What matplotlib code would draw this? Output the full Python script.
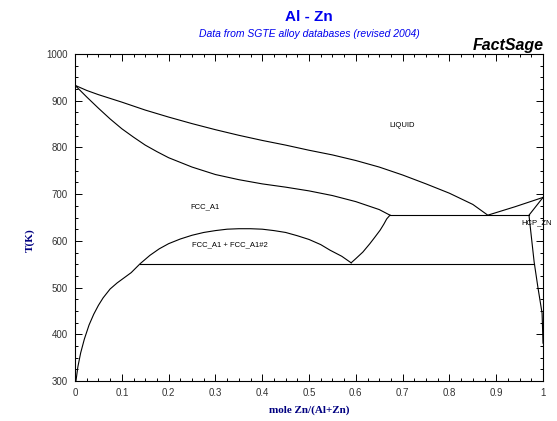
import matplotlib
matplotlib.use("Agg")
import matplotlib.pyplot as plt
from matplotlib.ticker import MultipleLocator

# liquidus (Al side down to eutectic, then Zn side)
liq_x = [0, 0.025, 0.05, 0.1, 0.15, 0.2, 0.25, 0.3, 0.35, 0.4, 0.45, 0.5,
         0.55, 0.6, 0.65, 0.7, 0.75, 0.8, 0.85, 0.882, 0.94, 1.0]
liq_t = [933, 922, 913, 897, 880, 865, 851, 838, 826, 815, 805, 794,
         784, 772, 758, 741, 722, 702, 678, 655, 673, 693]

# fcc solidus
sol_x = [0, 0.025, 0.05, 0.075, 0.1, 0.125, 0.15, 0.175, 0.2, 0.25, 0.3, 0.35,
         0.4, 0.45, 0.5, 0.55, 0.6, 0.65, 0.673]
sol_t = [933, 908, 884, 861, 840, 822, 805, 791, 778, 758, 742, 731,
         722, 715, 707, 697, 684, 667, 655]

# fcc solvus + miscibility gap
gap_x = [0.002, 0.006, 0.012, 0.02, 0.03, 0.04, 0.05, 0.06, 0.075, 0.09, 0.105,
         0.12, 0.139, 0.16, 0.18, 0.2, 0.225, 0.25, 0.275, 0.3, 0.325, 0.35,
         0.375, 0.4, 0.425, 0.45, 0.475, 0.5, 0.525, 0.545, 0.57, 0.59]
gap_t = [300, 330, 360, 390, 420, 443, 462, 478, 497, 510, 521,
         532, 551, 569, 583, 594, 604, 612, 618, 622, 625, 626,
         626, 625, 622, 618, 611, 603, 592, 580, 567, 553]

# fcc#2 boundary from monotectoid up to eutectic
fcc2_x = [0.59, 0.6, 0.615, 0.63, 0.64, 0.652, 0.66, 0.666, 0.673]
fcc2_t = [553, 562, 576, 594, 607, 623, 636, 647, 655]

# hcp solidus / solvus
hcp_x = [1.0, 0.97, 0.981, 0.989, 0.998, 1.0]
hcp_t = [693, 655, 555, 501, 445, 381]

# invariant lines
eut_x = [0.673, 0.97]
eut_t = [655, 655]
mono_x = [0.139, 0.981]
mono_t = [551, 551]

labels = ["LIQUID", "FCC_A1", "FCC_A1 + FCC_A1#2", "HCP_ZN"]
label_x = [0.70, 0.278, 0.33, 0.987]
label_t = [848, 672, 591, 638]

fig = plt.figure(figsize=(5.57, 4.21), dpi=100)
ax = fig.add_axes([0.1347, 0.095, 0.8402, 0.7767])

for xs, ts in [(liq_x, liq_t), (sol_x, sol_t), (gap_x, gap_t), (fcc2_x, fcc2_t),
               (hcp_x, hcp_t), (eut_x, eut_t), (mono_x, mono_t)]:
    ax.plot(xs, ts, color="black", lw=0.8)

for s, x, t in zip(labels, label_x, label_t):
    ax.text(x, t, s, fontsize=5.5, ha="center", va="center", family="Liberation Sans",
            clip_on=False)

ax.set_xlim(0, 1)
ax.set_ylim(300, 1000)
ax.xaxis.set_major_locator(MultipleLocator(0.1))
ax.xaxis.set_minor_locator(MultipleLocator(0.025))
ax.yaxis.set_major_locator(MultipleLocator(100))
ax.yaxis.set_minor_locator(MultipleLocator(25))
ax.set_xticks([i / 10 for i in range(11)])
ax.set_xticklabels(["0", "0.1", "0.2", "0.3", "0.4", "0.5", "0.6", "0.7", "0.8", "0.9", "1"])
ax.tick_params(which="both", direction="in", top=True, right=True, width=0.7,
               labelsize=7, labelcolor="#333333", pad=5)
ax.tick_params(which="major", length=5)
ax.tick_params(which="minor", length=2.5)
for lbl in ax.get_xticklabels() + ax.get_yticklabels():
    lbl.set_family("Liberation Sans")
for sp in ax.spines.values():
    sp.set_linewidth(0.8)

fig.text(0.555, 0.960, "Al - Zn", color="#0000ee", fontsize=11, fontweight="bold",
         ha="center", va="center", family="Liberation Sans")
fig.text(0.555, 0.919, "Data from SGTE alloy databases (revised 2004)", color="#0000ee",
         fontsize=7.5, style="italic", ha="center", va="center", family="Liberation Sans")
fig.text(0.977, 0.893, "FactSage", color="black", fontsize=11.5, fontweight="bold",
         style="italic", ha="right", va="center", family="Liberation Sans")
fig.text(0.054, 0.43, "T(K)", color="#000080", fontsize=8, fontweight="bold",
         rotation=90, ha="center", va="center", family="Liberation Serif")
fig.text(0.555, 0.026, "mole Zn/(Al+Zn)", color="#000080", fontsize=8, fontweight="bold",
         ha="center", va="center", family="Liberation Serif")

fig.savefig("out.png", dpi=100)
